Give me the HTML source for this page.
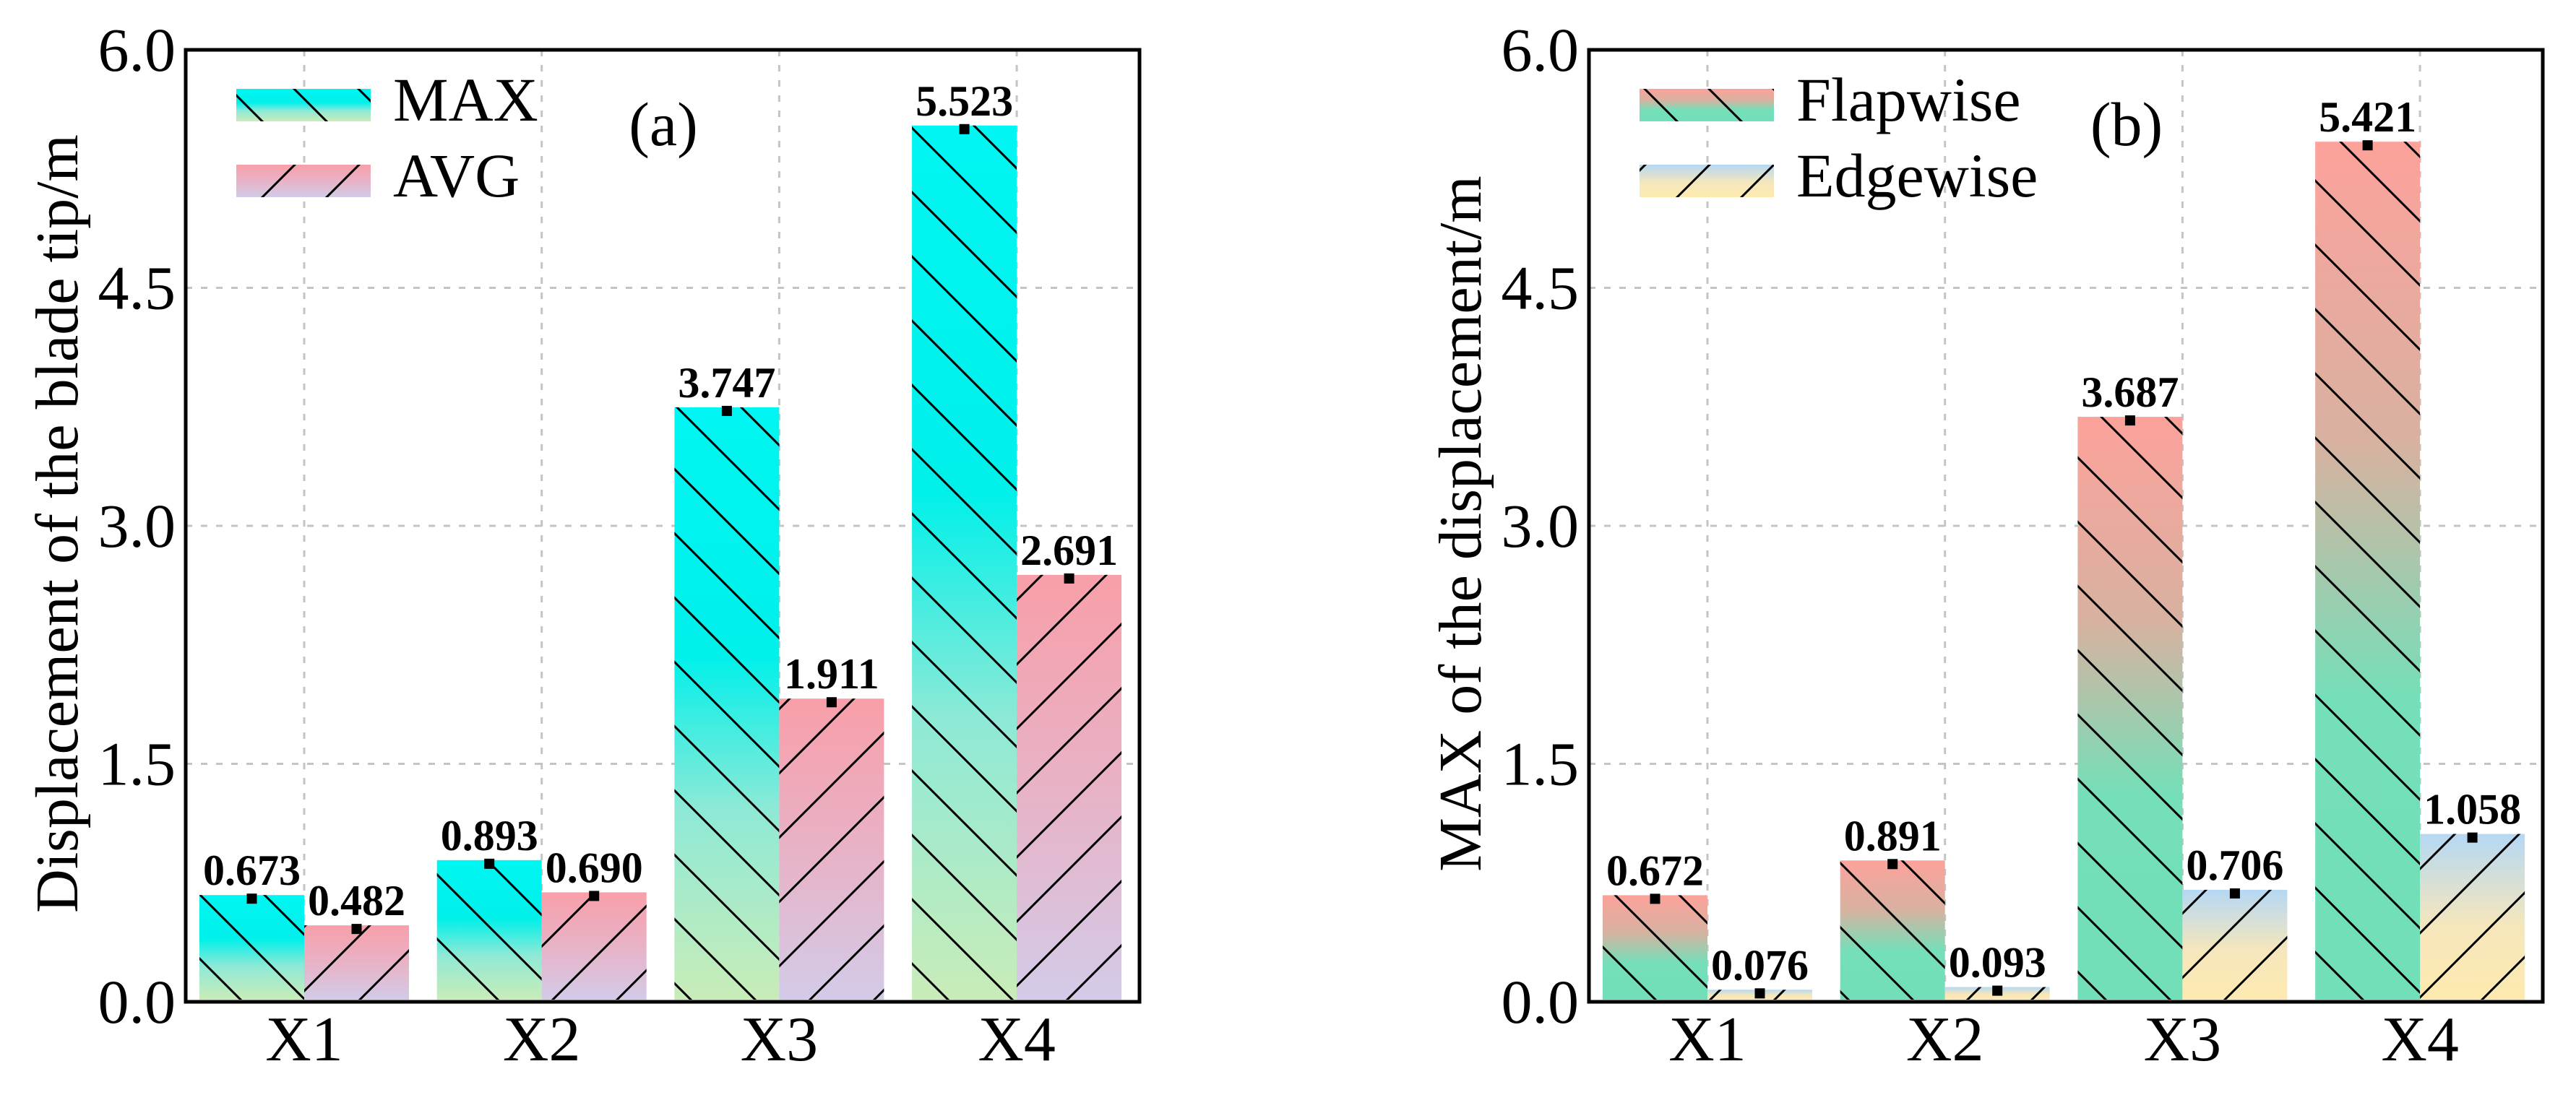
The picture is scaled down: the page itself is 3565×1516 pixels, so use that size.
<!DOCTYPE html>
<html><head><meta charset="utf-8"><style>
html,body{margin:0;padding:0;background:#fff;}
svg{display:block;font-family:"Liberation Serif",serif;}
</style></head><body>
<svg id="fig" width="3565" height="1516" viewBox="0 0 3565 1516" xmlns="http://www.w3.org/2000/svg">
<defs>
<linearGradient id="gMax" x1="0" y1="0" x2="0" y2="1"><stop offset="0" stop-color="#00f6f2"/><stop offset="0.42" stop-color="#00f0ea"/><stop offset="0.68" stop-color="#8ee9d6"/><stop offset="1" stop-color="#c9ecb8"/></linearGradient>
<linearGradient id="gAvg" x1="0" y1="0" x2="0" y2="1"><stop offset="0" stop-color="#f89fa9"/><stop offset="0.5" stop-color="#e8b2c6"/><stop offset="1" stop-color="#d3cbe8"/></linearGradient>
<linearGradient id="gFlap" x1="0" y1="0" x2="0" y2="1"><stop offset="0" stop-color="#fca29b"/><stop offset="0.35" stop-color="#d8b1a0"/><stop offset="0.65" stop-color="#74dfb8"/><stop offset="1" stop-color="#72dfb8"/></linearGradient>
<linearGradient id="gEdge" x1="0" y1="0" x2="0" y2="1"><stop offset="0" stop-color="#b5d8f4"/><stop offset="0.55" stop-color="#f5e6bc"/><stop offset="1" stop-color="#feeab0"/></linearGradient>
<pattern id="hBack" patternUnits="userSpaceOnUse" x="17" y="0" width="89" height="89"><path d="M-10,-10 L99,99 M-10,79 L10,99 M79,-10 L99,10" stroke="#000" stroke-width="3"/></pattern>
<pattern id="hFwd" patternUnits="userSpaceOnUse" x="13" y="0" width="89" height="89"><path d="M-10,99 L99,-10 M-10,10 L10,-10 M79,99 L99,79" stroke="#000" stroke-width="3"/></pattern>
</defs>
<g id="chartA"></g>
<g id="chartB"></g>
</svg>
<script>
const categories = ["X1","X2","X3","X4"];
const maxValues = [0.673,0.893,3.747,5.523];
const avgValues = [0.482,0.690,1.911,2.691];
const flapValues = [0.672,0.891,3.687,5.421];
const edgeValues = [0.076,0.093,0.706,1.058];
const yTicks = [0,1.5,3.0,4.5,6.0];
const yTickLabels = ["0.0","1.5","3.0","4.5","6.0"];

const NS="http://www.w3.org/2000/svg";
function mk(parent,tag,attrs,text){const e=document.createElementNS(NS,tag);for(const k in attrs)e.setAttribute(k,attrs[k]);if(text!==undefined)e.textContent=text;parent.appendChild(e);return e;}

function drawChart(g,cfg){
  const L=cfg.left,R=cfg.left+1320,T=69,B=1387,yMax=6;
  const yS=v=>B-v/yMax*(B-T);
  const groupW=328.7, x0=L+164;
  const xC=i=>x0+i*groupW;
  const bw=145;
  const grid=mk(g,'g',{});
  
  
  yTicks.forEach((t,i)=>{
    if(i>0&&i<yTicks.length-1){const ln=mk(grid,'line',{x1:L,x2:R,y1:yS(t),y2:yS(t),stroke:'#c4c4c4','stroke-width':3,'stroke-dasharray':'9,12'});
    
    }
  });
  categories.forEach((c,i)=>{const ln=mk(grid,'line',{x1:xC(i),x2:xC(i),y1:T,y2:B,stroke:'#c4c4c4','stroke-width':3,'stroke-dasharray':'9,12'});
    
    });
  const series=[{vals:cfg.s1,grad:cfg.g1,hatch:'hBack',off:-bw,name:cfg.n1},{vals:cfg.s2,grad:cfg.g2,hatch:'hFwd',off:0,name:cfg.n2}];
  series.forEach(s=>{
    s.vals.forEach((v,i)=>{
      const x=xC(i)+s.off,y=yS(v),h=B-3-y;
      const bar=mk(g,'rect',{x:x,y:y,width:bw,height:h,fill:'url(#'+s.grad+')'});
      
      
      const hb=mk(g,'rect',{x:x,y:y,width:bw,height:h,fill:'url(#'+s.hatch+')'});
      
      
      const m=mk(g,'rect',{x:x+bw/2-7,y:y-2,width:14,height:14,fill:'#000'});
      
      
      const t=mk(g,'text',{x:x+bw/2,y:y-14,'text-anchor':'middle','font-size':60,'font-weight':'bold',fill:'#000'},v.toFixed(3));
      
      
    });
  });
  const frame=mk(g,'rect',{x:L,y:T,width:R-L,height:B-T,fill:'none',stroke:'#000','stroke-width':5});
  
  
  yTicks.forEach((t,i)=>{const tx=mk(g,'text',{x:L-14,y:yS(t)+29,'text-anchor':'end','font-size':86},yTickLabels[i]);
    
    });
  categories.forEach((c,i)=>{const tx=mk(g,'text',{x:xC(i),y:1468,'text-anchor':'middle','font-size':88},c);
    
    });
  const yl=mk(g,'text',{x:0,y:0,'text-anchor':'middle','font-size':84,transform:'translate('+(L-150)+',725) rotate(-90)'},cfg.ylabel);
  
  
  // legend
  const lg=mk(g,'g',{});
  
  
  [[cfg.g1,'hBack',cfg.n1,123],[cfg.g2,'hFwd',cfg.n2,228]].forEach(e=>{
    const p=mk(lg,'rect',{x:L+70,y:e[3],width:186,height:45,fill:'url(#'+e[0]+')'});
    
    
    const ph=mk(lg,'rect',{x:L+70,y:e[3],width:186,height:45,fill:'url(#'+e[1]+')'});
    
    
    const tx=mk(lg,'text',{x:L+287,y:e[3]+44,'font-size':86},e[2]);
    
    
  });
  const pl=mk(g,'text',{x:cfg.panelX,y:201,'text-anchor':'middle','font-size':86},cfg.panel);
  
  
}
drawChart(document.getElementById('chartA'),{left:257,s1:maxValues,s2:avgValues,g1:'gMax',g2:'gAvg',n1:'MAX',n2:'AVG',ylabel:'Displacement of the blade tip/m',panel:'(a)',panelX:918});
drawChart(document.getElementById('chartB'),{left:2199,s1:flapValues,s2:edgeValues,g1:'gFlap',g2:'gEdge',n1:'Flapwise',n2:'Edgewise',ylabel:'MAX of the displacement/m',panel:'(b)',panelX:2943});
</script>
</body></html>
